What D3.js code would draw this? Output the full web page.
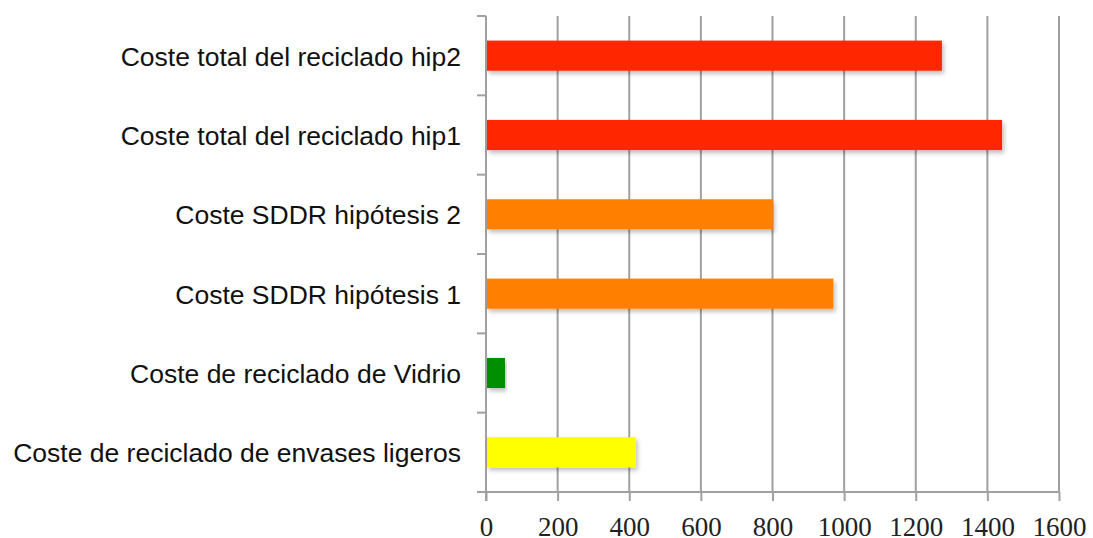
<!DOCTYPE html>
<meta charset="utf-8">
<style>
body { margin: 0; background: white; }
svg { display: block; }
.cat { font-family: "Liberation Sans", Arial, sans-serif; font-size: 26.5px; fill: #111; }
.tick text { font-family: "Liberation Serif", "DejaVu Serif", serif; font-size: 27px; fill: #222; }
</style>
<script src="https://d3js.org/d3.v7.min.js"></script>
<body>
<script>

// categories from top to bottom
var categories = [
  "Coste total del reciclado hip2",
  "Coste total del reciclado hip1",
  "Coste SDDR hipótesis 2",
  "Coste SDDR hipótesis 1",
  "Coste de reciclado de Vidrio",
  "Coste de reciclado de envases ligeros"
];
var values = [1273, 1441, 801, 970, 53, 418];
var colors = ["#ff2600", "#ff2600", "#ff8000", "#ff8000", "#008f00", "#ffff00"];
var xTicks = [0, 200, 400, 600, 800, 1000, 1200, 1400, 1600];

var width = 1093, height = 538;
var margin = {top: 16, right: 34, bottom: 46, left: 486};
var w = width - margin.left - margin.right,
    h = height - margin.top - margin.bottom;

var svg = d3.select("body").append("svg")
    .attr("width", width)
    .attr("height", height);

var defs = svg.append("defs");
var f = defs.append("filter").attr("id", "shadow")
    .attr("x", "-5%").attr("y", "-20%").attr("width", "115%").attr("height", "160%");
f.append("feDropShadow").attr("dx", 2).attr("dy", 3).attr("stdDeviation", 2)
    .attr("flood-color", "#000").attr("flood-opacity", 0.25);

var g = svg.append("g")
    .attr("transform", "translate(" + margin.left + "," + margin.top + ")");

var x = d3.scaleLinear().domain([0, 1600]).range([0, w]);
var y = d3.scaleBand().domain(categories).range([0, h]).paddingInner(0.62).paddingOuter(0.31);

// vertical grid lines
g.selectAll(".grid")
    .data(xTicks.slice(1))
  .enter().append("line")
    .attr("class", "grid")
    .attr("x1", function(d) { return x(d); })
    .attr("x2", function(d) { return x(d); })
    .attr("y1", 0)
    .attr("y2", h)
    .attr("stroke", "#a0a0a0")
    .attr("stroke-width", 2);

// x axis
var xAxis = g.append("g")
    .attr("transform", "translate(0," + h + ")")
    .call(d3.axisBottom(x).tickValues(xTicks).tickSize(9).tickPadding(16).tickFormat(d3.format("d")));
xAxis.select(".domain").attr("stroke", "#a0a0a0").attr("stroke-width", 2).attr("d", "M0,0H" + w);
xAxis.selectAll(".tick line").attr("stroke", "#a0a0a0").attr("stroke-width", 2);

// y axis: line plus ticks on band boundaries
var step = h / categories.length;
var bounds = d3.range(categories.length + 1).map(function(i) { return i * step; });
g.append("line")
    .attr("x1", 0).attr("x2", 0).attr("y1", 0).attr("y2", h + 9)
    .attr("stroke", "#a0a0a0").attr("stroke-width", 2);
g.selectAll(".ytick")
    .data(bounds)
  .enter().append("line")
    .attr("class", "ytick")
    .attr("x1", -9).attr("x2", 0)
    .attr("y1", function(d) { return d; })
    .attr("y2", function(d) { return d; })
    .attr("stroke", "#a0a0a0").attr("stroke-width", 2);

// bars
g.selectAll(".bar")
    .data(values)
  .enter().append("rect")
    .attr("class", "bar")
    .attr("x", 1)
    .attr("y", function(d, i) { return y(categories[i]); })
    .attr("width", function(d) { return x(d) - 1; })
    .attr("height", y.bandwidth())
    .attr("fill", function(d, i) { return colors[i]; })
    .attr("filter", "url(#shadow)");

// category labels
g.selectAll(".cat")
    .data(categories)
  .enter().append("text")
    .attr("class", "cat")
    .attr("x", -25)
    .attr("y", function(d) { return y(d) + y.bandwidth() / 2; })
    .attr("dy", "0.38em")
    .attr("text-anchor", "end")
    .text(function(d) { return d; });

</script>
</body>
